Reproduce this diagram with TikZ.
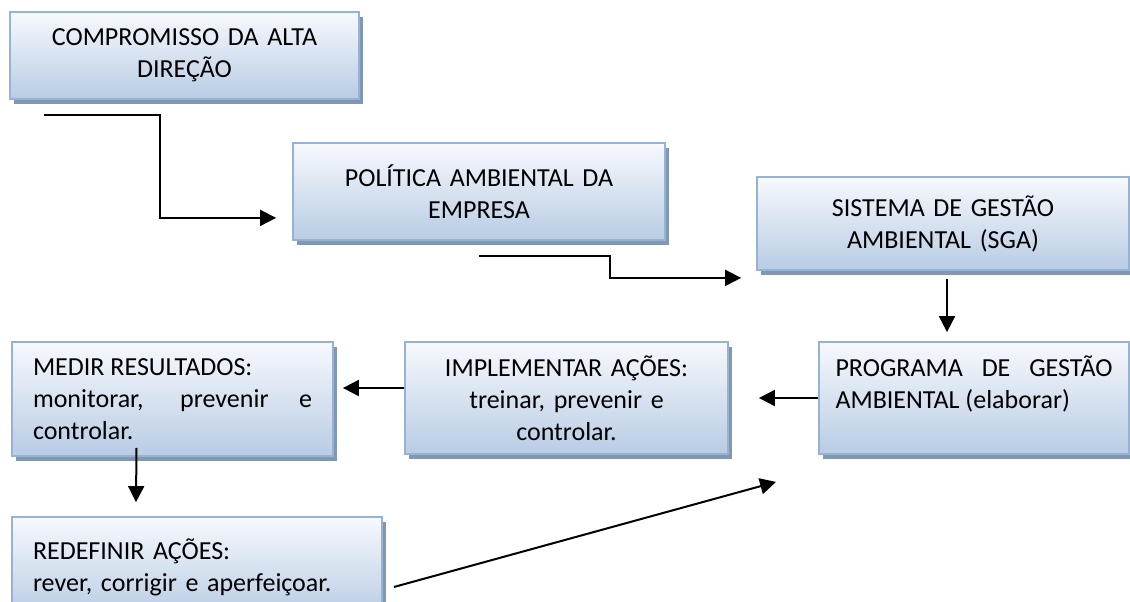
\documentclass[tikz,border=0pt]{standalone}
\usepackage{fontspec}
\setmainfont{Carlito}
\usepackage{xcolor}
\usepackage{tikz}
\usetikzlibrary{shapes,arrows,positioning,calc,shadows,arrows.meta}

\definecolor{boxtop}{HTML}{F7F9FD}
\definecolor{boxbot}{HTML}{B8CCE4}
\definecolor{boxline}{HTML}{95B3D7}
\definecolor{boxshadow}{HTML}{8497B0}

\begin{document}
\begin{tikzpicture}[x=1pt,y=-1pt,
    blok/.style={rectangle, draw=boxline, line width=1.8pt, top color=boxtop, bottom color=boxbot,
        drop shadow={shadow xshift=4pt, shadow yshift=-5pt, fill=boxshadow, opacity=1},
        inner xsep=21pt, inner ysep=0pt, font=\fontsize{26}{32}\selectfont},
    arr/.style={-{Triangle[length=16pt,width=16pt]}, line width=2pt}]
    \useasboundingbox (0,0) rectangle (1130,602);
    \clip (0,0) rectangle (1130,602);

    % Boxes
    \node[blok, text width=307pt, minimum height=87pt, align=center] (comp) at (184.5,55.5)
        {COMPROMISSO DA ALTA\\DIREÇÃO};
    \node[blok, text width=330pt, minimum height=97pt, align=center] (pol) at (479,191.5)
        {POLÍTICA AMBIENTAL DA\\EMPRESA};
    \node[blok, text width=330pt, minimum height=93pt, align=center] (sga) at (943,223.5)
        {SISTEMA DE GESTÃO\\AMBIENTAL (SGA)};
    \node[blok, text width=277pt, inner xsep=16.5pt, minimum height=112pt, align=justify] (prog) at (974,398)
        {PROGRAMA DE GESTÃO\linebreak AMBIENTAL (elaborar)\\\mbox{}};
    \node[blok, text width=281pt, minimum height=112pt, align=center] (impl) at (566.5,398)
        {IMPLEMENTAR AÇÕES:\\treinar, prevenir e\\controlar.};
    \node[blok, text width=279pt, minimum height=114pt, align=justify] (medir) at (172.5,399)
        {MEDIR RESULTADOS:\\monitorar, prevenir e\linebreak controlar.};
    \node[blok, text width=328pt, minimum height=100pt, align=left] (redef) at (197,567)
        {REDEFINIR AÇÕES:\\rever, corrigir e aperfeiçoar.};

    % Arrows
    \coordinate (c1s) at ($(comp.south west)+(35,15)$);
    \coordinate (c1e) at ($(pol.south west)+(-16,-23)$);
    \draw[arr] (c1s) -| ($(c1s)!.5!(c1e)$) |- (c1e);

    \coordinate (c2s) at ($(pol.south)+(0,15)$);
    \coordinate (c2e) at ($(sga.south west)+(-15,7)$);
    \draw[arr] (c2s) -| ($(c2s)!.5!(c2e)$) |- (c2e);

    \draw[arr] ($(sga.south)+(4,8)$) -- ($(prog.north -| sga.south)+(4,-9)$);
    \draw[arr] (prog.west) -- ($(impl.east)+(30,0)$);
    \draw[arr] ($(impl.west)+(0,-10)$) -- ($(medir.east)+(9,-11)$);
    \draw[arr] ($(medir.south)+(-36,-9)$) -- ($(redef.north)+(-61,-14)$);
    \draw[arr] ($(redef.east)+(11,20)$) -- ($(prog.south west)+(-42,27)$);
\end{tikzpicture}
\end{document}
